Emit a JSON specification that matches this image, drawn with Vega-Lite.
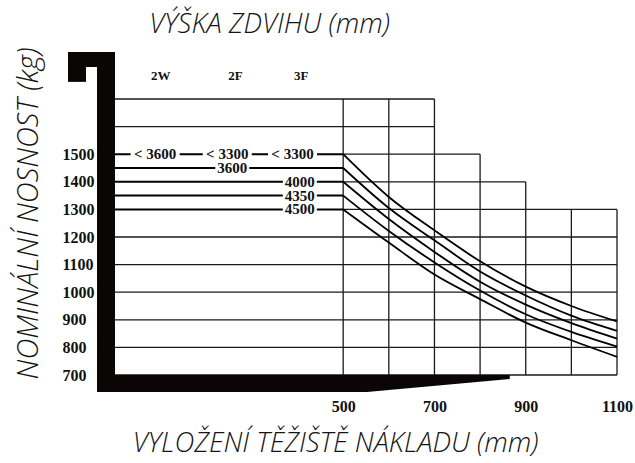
{
  "$schema": "https://vega.github.io/schema/vega-lite/v6.json",
  "width": 502,
  "height": 276,
  "autosize": {"type": "none"},
  "padding": {"left": 115, "top": 99, "right": 18, "bottom": 88},
  "background": "white",
  "config": {"view": {"stroke": null}},
  "resolve": {"axis": {"x": "independent", "y": "independent"}},
  "datasets": {
    "hgrid": [
      {"y": 1700, "x1": 0, "x2": 700},
      {"y": 1600, "x1": 0, "x2": 700},
      {"y": 1500, "x1": 500, "x2": 800},
      {"y": 1400, "x1": 500, "x2": 900},
      {"y": 1300, "x1": 500, "x2": 1100},
      {"y": 1200, "x1": 0, "x2": 1100},
      {"y": 1100, "x1": 0, "x2": 1100},
      {"y": 1000, "x1": 0, "x2": 1100},
      {"y": 900, "x1": 0, "x2": 1100},
      {"y": 800, "x1": 0, "x2": 1100},
      {"y": 700, "x1": 0, "x2": 1100}
    ],
    "vgrid": [
      {"x": 500, "y1": 700, "y2": 1700},
      {"x": 600, "y1": 700, "y2": 1700},
      {"x": 700, "y1": 700, "y2": 1700},
      {"x": 800, "y1": 700, "y2": 1500},
      {"x": 900, "y1": 700, "y2": 1400},
      {"x": 1000, "y1": 700, "y2": 1300},
      {"x": 1100, "y1": 700, "y2": 1300}
    ],
    "flat": [
      {"h": "3300", "y": 1500, "x1": 0, "x2": 500},
      {"h": "3600", "y": 1450, "x1": 0, "x2": 500},
      {"h": "4000", "y": 1400, "x1": 0, "x2": 500},
      {"h": "4350", "y": 1350, "x1": 0, "x2": 500},
      {"h": "4500", "y": 1300, "x1": 0, "x2": 500}
    ],
    "curves": [
      {"h": "3300", "x": 500, "y": 1500}, {"h": "3300", "x": 600, "y": 1345}, {"h": "3300", "x": 700, "y": 1224}, {"h": "3300", "x": 800, "y": 1112}, {"h": "3300", "x": 900, "y": 1020}, {"h": "3300", "x": 1000, "y": 950}, {"h": "3300", "x": 1100, "y": 894},
      {"h": "3600", "x": 500, "y": 1450}, {"h": "3600", "x": 600, "y": 1305}, {"h": "3600", "x": 700, "y": 1188}, {"h": "3600", "x": 800, "y": 1075}, {"h": "3600", "x": 900, "y": 988}, {"h": "3600", "x": 1000, "y": 915}, {"h": "3600", "x": 1100, "y": 860},
      {"h": "4000", "x": 500, "y": 1400}, {"h": "4000", "x": 600, "y": 1265}, {"h": "4000", "x": 700, "y": 1146}, {"h": "4000", "x": 800, "y": 1038}, {"h": "4000", "x": 900, "y": 955}, {"h": "4000", "x": 1000, "y": 888}, {"h": "4000", "x": 1100, "y": 832},
      {"h": "4350", "x": 500, "y": 1350}, {"h": "4350", "x": 600, "y": 1222}, {"h": "4350", "x": 700, "y": 1108}, {"h": "4350", "x": 800, "y": 1006}, {"h": "4350", "x": 900, "y": 920}, {"h": "4350", "x": 1000, "y": 856}, {"h": "4350", "x": 1100, "y": 803},
      {"h": "4500", "x": 500, "y": 1300}, {"h": "4500", "x": 600, "y": 1180}, {"h": "4500", "x": 700, "y": 1064}, {"h": "4500", "x": 800, "y": 975}, {"h": "4500", "x": 900, "y": 890}, {"h": "4500", "x": 1000, "y": 826}, {"h": "4500", "x": 1100, "y": 766}
    ],
    "frame": [
      {"x1": -103, "x2": 0, "y1": 1816, "y2": 1870},
      {"x1": -103, "x2": -63.5, "y1": 1762, "y2": 1870},
      {"x1": -39.4, "x2": 0, "y1": 638, "y2": 1870}
    ],
    "wedge": [
      {"x": -39.4, "top": 700, "bottom": 638},
      {"x": 552, "top": 700, "bottom": 638},
      {"x": 865, "top": 700, "bottom": 685.5}
    ],
    "labels": [
      {"x": 88, "y": 1500, "t": "< 3600"},
      {"x": 246, "y": 1500, "t": "< 3300"},
      {"x": 389, "y": 1500, "t": "< 3300"},
      {"x": 257, "y": 1450, "t": "3600"},
      {"x": 405, "y": 1400, "t": "4000"},
      {"x": 405, "y": 1350, "t": "4350"},
      {"x": 405, "y": 1300, "t": "4500"}
    ],
    "headers": [
      {"x": 100, "y": 1783, "t": "2W"},
      {"x": 264, "y": 1783, "t": "2F"},
      {"x": 408, "y": 1783, "t": "3F"}
    ]
  },
  "layer": [
    {
      "data": {"name": "hgrid"},
      "mark": {"type": "rule", "stroke": "#1a1a1a", "strokeWidth": 1.3},
      "encoding": {
        "x": {"field": "x1", "type": "quantitative", "scale": {"domain": [0, 1100], "nice": false, "zero": false}, "axis": null},
        "x2": {"field": "x2"},
        "y": {
          "field": "y", "type": "quantitative",
          "scale": {"domain": [700, 1700], "nice": false, "zero": false},
          "axis": {
            "orient": "left", "values": [700, 800, 900, 1000, 1100, 1200, 1300, 1400, 1500], "domain": false, "ticks": false, "tickSize": 0, "grid": false,
            "labelPadding": 53, "labelAlign": "left", "labelBaseline": "middle", "labelFlush": false, "labelOverlap": false, "format": "d",
            "labelFont": "Liberation Serif", "labelFontWeight": "bold", "labelFontSize": 16, "labelColor": "#111111",
            "title": "NOMINÁLNÍ NOSNOST (kg)", "titleX": -87, "titleY": 114, "titleAngle": -90, "titleAlign": "center", "titleBaseline": "middle",
            "titleFont": "Open Sans", "titleFontStyle": "italic", "titleFontWeight": 300, "titleFontSize": 29, "titleColor": "#151515"
          }
        }
      }
    },
    {
      "data": {"name": "vgrid"},
      "mark": {"type": "rule", "stroke": "#1a1a1a", "strokeWidth": 1.3},
      "encoding": {
        "x": {"field": "x", "type": "quantitative", "scale": {"domain": [0, 1100], "nice": false, "zero": false}, "axis": null},
        "y": {"field": "y1", "type": "quantitative", "scale": {"domain": [700, 1700], "nice": false, "zero": false}, "axis": null},
        "y2": {"field": "y2"}
      }
    },
    {
      "data": {"name": "flat"},
      "mark": {"type": "rule", "stroke": "#000000", "strokeWidth": 2},
      "encoding": {
        "x": {"field": "x1", "type": "quantitative", "scale": {"domain": [0, 1100], "nice": false, "zero": false}, "axis": null},
        "x2": {"field": "x2"},
        "y": {"field": "y", "type": "quantitative", "scale": {"domain": [700, 1700], "nice": false, "zero": false}, "axis": null}
      }
    },
    {
      "data": {"name": "curves"},
      "mark": {"type": "line", "stroke": "#000000", "strokeWidth": 1.8, "interpolate": "monotone"},
      "encoding": {
        "x": {
          "field": "x", "type": "quantitative",
          "scale": {"domain": [0, 1100], "nice": false, "zero": false},
          "axis": {
            "orient": "bottom", "values": [500, 700, 900, 1100], "domain": false, "ticks": false, "tickSize": 0, "grid": false,
            "labelPadding": 23, "labelFlush": false, "labelOverlap": false, "format": "d",
            "labelFont": "Liberation Serif", "labelFontWeight": "bold", "labelFontSize": 16, "labelColor": "#111111",
            "title": "VYLOŽENÍ TĚŽIŠTĚ NÁKLADU (mm)", "titleX": 220, "titleY": 68, "titleAlign": "center", "titleBaseline": "middle",
            "titleFont": "Open Sans", "titleFontStyle": "italic", "titleFontWeight": 300, "titleFontSize": 27.5, "titleColor": "#151515"
          }
        },
        "y": {"field": "y", "type": "quantitative", "scale": {"domain": [700, 1700], "nice": false, "zero": false}, "axis": null},
        "detail": {"field": "h", "type": "nominal"}
      }
    },
    {
      "data": {"name": "frame"},
      "mark": {"type": "rect", "fill": "#0a0606", "stroke": null},
      "encoding": {
        "x": {"field": "x1", "type": "quantitative", "scale": {"domain": [0, 1100], "nice": false, "zero": false}, "axis": null},
        "x2": {"field": "x2"},
        "y": {"field": "y1", "type": "quantitative", "scale": {"domain": [700, 1700], "nice": false, "zero": false}, "axis": null},
        "y2": {"field": "y2"}
      }
    },
    {
      "data": {"name": "wedge"},
      "mark": {"type": "area", "fill": "#0a0606", "orient": "vertical", "interpolate": "linear"},
      "encoding": {
        "x": {"field": "x", "type": "quantitative", "scale": {"domain": [0, 1100], "nice": false, "zero": false}, "axis": null},
        "y": {"field": "top", "type": "quantitative", "scale": {"domain": [700, 1700], "nice": false, "zero": false}, "axis": null},
        "y2": {"field": "bottom"}
      }
    },
    {
      "data": {"name": "labels"},
      "transform": [{"filter": "indexof(datum.t, '<') >= 0"}],
      "mark": {"type": "point", "shape": "M-2.45,-0.4H2.45V0.4H-2.45Z", "size": 400, "filled": true, "fill": "white", "stroke": null, "opacity": 1},
      "encoding": {
        "x": {"field": "x", "type": "quantitative", "scale": {"domain": [0, 1100], "nice": false, "zero": false}, "axis": null},
        "y": {"field": "y", "type": "quantitative", "scale": {"domain": [700, 1700], "nice": false, "zero": false}, "axis": null}
      }
    },
    {
      "data": {"name": "labels"},
      "transform": [{"filter": "indexof(datum.t, '<') < 0"}],
      "mark": {"type": "point", "shape": "M-1.7,-0.4H1.7V0.4H-1.7Z", "size": 400, "filled": true, "fill": "white", "stroke": null, "opacity": 1},
      "encoding": {
        "x": {"field": "x", "type": "quantitative", "scale": {"domain": [0, 1100], "nice": false, "zero": false}, "axis": null},
        "y": {"field": "y", "type": "quantitative", "scale": {"domain": [700, 1700], "nice": false, "zero": false}, "axis": null}
      }
    },
    {
      "data": {"name": "labels"},
      "mark": {"type": "text", "font": "Liberation Serif", "fontWeight": "bold", "fontSize": 15, "align": "center", "baseline": "middle", "color": "#111111"},
      "encoding": {
        "x": {"field": "x", "type": "quantitative", "scale": {"domain": [0, 1100], "nice": false, "zero": false}, "axis": null},
        "y": {"field": "y", "type": "quantitative", "scale": {"domain": [700, 1700], "nice": false, "zero": false}, "axis": null},
        "text": {"field": "t"}
      }
    },
    {
      "data": {"name": "headers"},
      "mark": {"type": "text", "font": "Liberation Serif", "fontWeight": "bold", "fontSize": 13, "align": "center", "baseline": "middle", "color": "#111111"},
      "encoding": {
        "x": {
          "field": "x", "type": "quantitative",
          "scale": {"domain": [0, 1100], "nice": false, "zero": false},
          "axis": {
            "orient": "top", "labels": false, "domain": false, "ticks": false, "tickSize": 0, "grid": false,
            "title": "VÝŠKA ZDVIHU (mm)", "titleX": 154, "titleY": -75, "titleAlign": "center", "titleBaseline": "middle",
            "titleFont": "Open Sans", "titleFontStyle": "italic", "titleFontWeight": 300, "titleFontSize": 27.5, "titleColor": "#151515"
          }
        },
        "y": {"field": "y", "type": "quantitative", "scale": {"domain": [700, 1700], "nice": false, "zero": false}, "axis": null},
        "text": {"field": "t"}
      }
    }
  ]
}
